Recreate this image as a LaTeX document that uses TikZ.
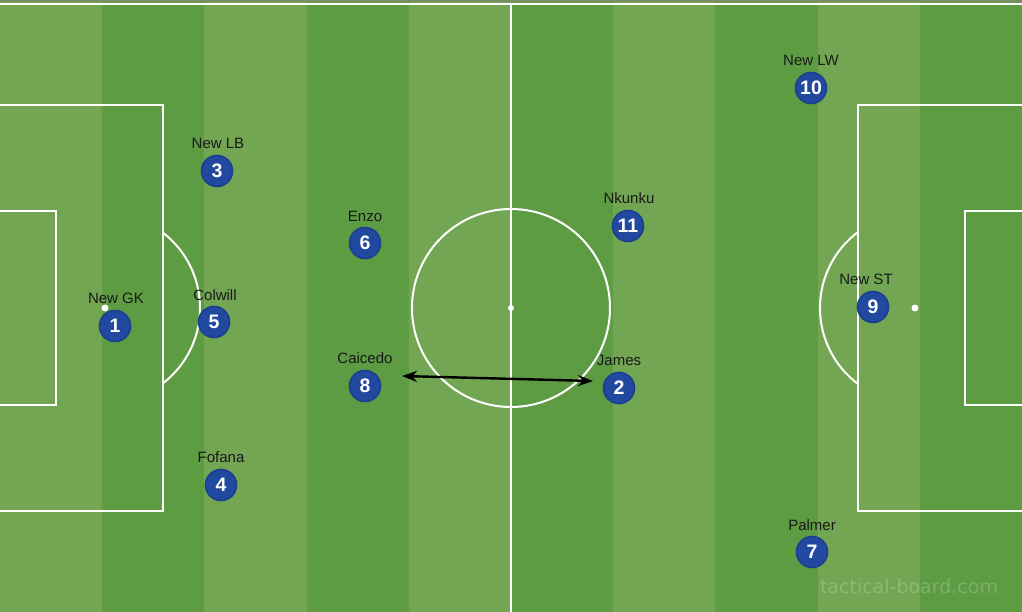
\documentclass[tikz,border=0pt]{standalone}
\usepackage{fontspec}
\setmainfont{Liberation Sans}
\newfontfamily\wmfont{DejaVu Sans}
\usetikzlibrary{arrows.meta}
\definecolor{lightg}{HTML}{72A653}
\definecolor{darkg}{HTML}{5E9C44}
\definecolor{topg}{HTML}{7A8C62}
\definecolor{pblue}{HTML}{2149A0}
\definecolor{pblueb}{HTML}{1B3F8E}
\tikzset{
  pline/.style={draw=white, line width=2pt},
  player/.style={circle, fill=pblue, draw=pblueb, line width=1.6pt, minimum size=31pt, inner sep=0pt, text=white, font=\fontsize{19.5}{19.5}\selectfont\bfseries},
  plabel/.style={text=black!90, font=\fontsize{15}{15}\selectfont, inner sep=0pt},
  runarrow/.style={{Stealth[length=15pt,width=11pt]}-{Stealth[length=15pt,width=11pt]}, line width=2.4pt, black},
  watermark/.style={text=white, opacity=0.2, font=\wmfont\fontsize{19}{19}\selectfont, inner sep=0pt}
}
\begin{document}
\begin{tikzpicture}[x=1pt,y=-1pt]
\useasboundingbox (0,0) rectangle (1022,612);
% stripes
\foreach \i in {0,...,9} {
  \pgfmathsetmacro\xa{\i*102.2}
  \pgfmathsetmacro\xb{(\i+1)*102.2}
  \ifodd\i
    \fill[darkg] (\xa,0) rectangle (\xb,612);
  \else
    \fill[lightg] (\xa,0) rectangle (\xb,612);
  \fi
}
\fill[topg] (0,0) rectangle (1022,2.2);
% pitch lines
\draw[pline] (-5,4) -- (1027,4);
\draw[pline] (511,4) -- (511,620);
\draw[pline] (511,308) circle (99);
\fill[white] (511,308) circle (3);
% left boxes
\draw[pline] (-5,105) -- (163,105) -- (163,511) -- (-5,511);
\draw[pline] (-5,211) -- (56,211) -- (56,405) -- (-5,405);
\fill[white] (105,308) circle (3.5);
\begin{scope}
\clip (164,0) rectangle (511,612);
\draw[pline] (105,308) circle (95);
\end{scope}
% right boxes
\draw[pline] (1027,105) -- (858,105) -- (858,511) -- (1027,511);
\draw[pline] (1027,211) -- (965,211) -- (965,405) -- (1027,405);
\fill[white] (915,308) circle (3.5);
\begin{scope}
\clip (0,0) rectangle (857,612);
\draw[pline] (915,308) circle (95);
\end{scope}
% players
\node[player] (p1) at (115,326) {1};
\node[plabel] (l1) at (116,298) {New GK};
\node[player] (p3) at (217,171) {3};
\node[plabel] (l3) at (218,143) {New LB};
\node[player] (p5) at (214,322) {5};
\node[plabel] (l5) at (215,295) {Colwill};
\node[player] (p4) at (221,485) {4};
\node[plabel] (l4) at (221,457) {Fofana};
\node[player] (p6) at (365,243) {6};
\node[plabel] (l6) at (365,216) {Enzo};
\node[player] (p8) at (365,386) {8};
\node[plabel] (l8) at (365,358) {Caicedo};
\node[player] (p11) at (628,226) {11};
\node[plabel] (l11) at (629,198) {Nkunku};
\node[player] (p2) at (619,388) {2};
\node[plabel] (l2) at (619,360) {James};
\node[player] (p10) at (811,88) {10};
\node[plabel] (l10) at (811,60) {New LW};
\node[player] (p9) at (873,307) {9};
\node[plabel] (l9) at (866,279) {New ST};
\node[player] (p7) at (812,552) {7};
\node[plabel] (l7) at (812,525) {Palmer};
% run arrow
\coordinate (a1) at (402,376);
\coordinate (a2) at (593,381);
\draw[runarrow] (a1) -- (a2);
% watermark
\node[watermark] (wm) at (909,586) {tactical-board.com};
\end{tikzpicture}
\end{document}
